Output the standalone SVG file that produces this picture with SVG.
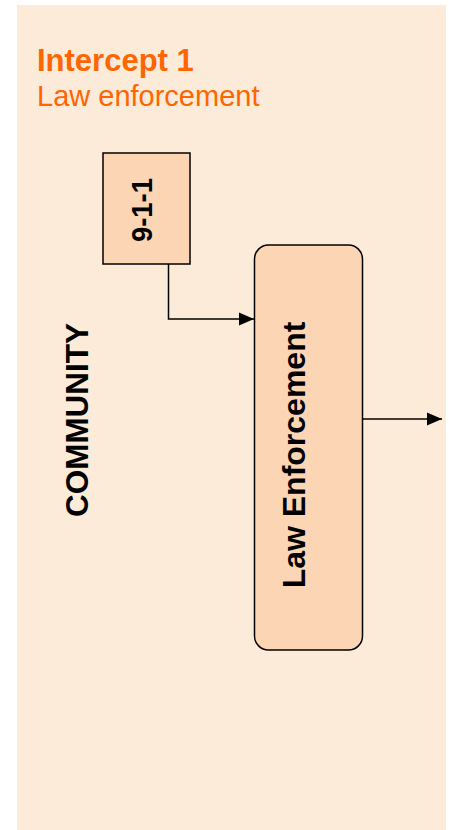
<svg xmlns="http://www.w3.org/2000/svg" width="449" height="830" viewBox="0 0 449 830">
<defs>
<style>
.bg{fill:#FDEBDA}
.node{fill:#FCD5B4;stroke:#000;stroke-width:1.5}
.lbl{font-family:"Liberation Sans",Arial,sans-serif;font-weight:bold;fill:#000;text-anchor:middle}
.title{font-family:"Liberation Sans",Arial,sans-serif;fill:#FF6600}
.conn{fill:none;stroke:#000;stroke-width:1.5}
</style>
<marker id="arr" markerWidth="16" markerHeight="14" refX="15" refY="6.5" orient="auto" markerUnits="userSpaceOnUse" viewBox="0 0 16 13">
<path d="M0,0 L15,6.5 L0,13 Z" fill="#000"/>
</marker>
</defs>
<rect class="bg" x="17" y="5" width="429" height="825"/>
<g id="title">
<text class="title" x="37" y="71" font-size="31" font-weight="bold">Intercept 1</text>
<text class="title" x="37" y="106" font-size="29">Law enforcement</text>
</g>
<g id="community">
<text class="lbl" font-size="32" textLength="194" lengthAdjust="spacingAndGlyphs" transform="translate(88,420) rotate(-90)">COMMUNITY</text>
</g>
<g id="node-911">
<rect class="node" x="103" y="153" width="87" height="111"/>
<text class="lbl" font-size="30" textLength="64" lengthAdjust="spacingAndGlyphs" transform="translate(152,210) rotate(-90)">9-1-1</text>
</g>
<g id="node-law">
<rect class="node" x="254.5" y="245" width="108" height="405" rx="14" ry="14"/>
<text class="lbl" font-size="32" transform="translate(305,455) rotate(-90)">Law Enforcement</text>
</g>
<g id="connectors">
<path class="conn" d="M168.5,264 V319 H254" marker-end="url(#arr)"/>
<path class="conn" d="M362.5,419 H442" marker-end="url(#arr)"/>
</g>
</svg>
